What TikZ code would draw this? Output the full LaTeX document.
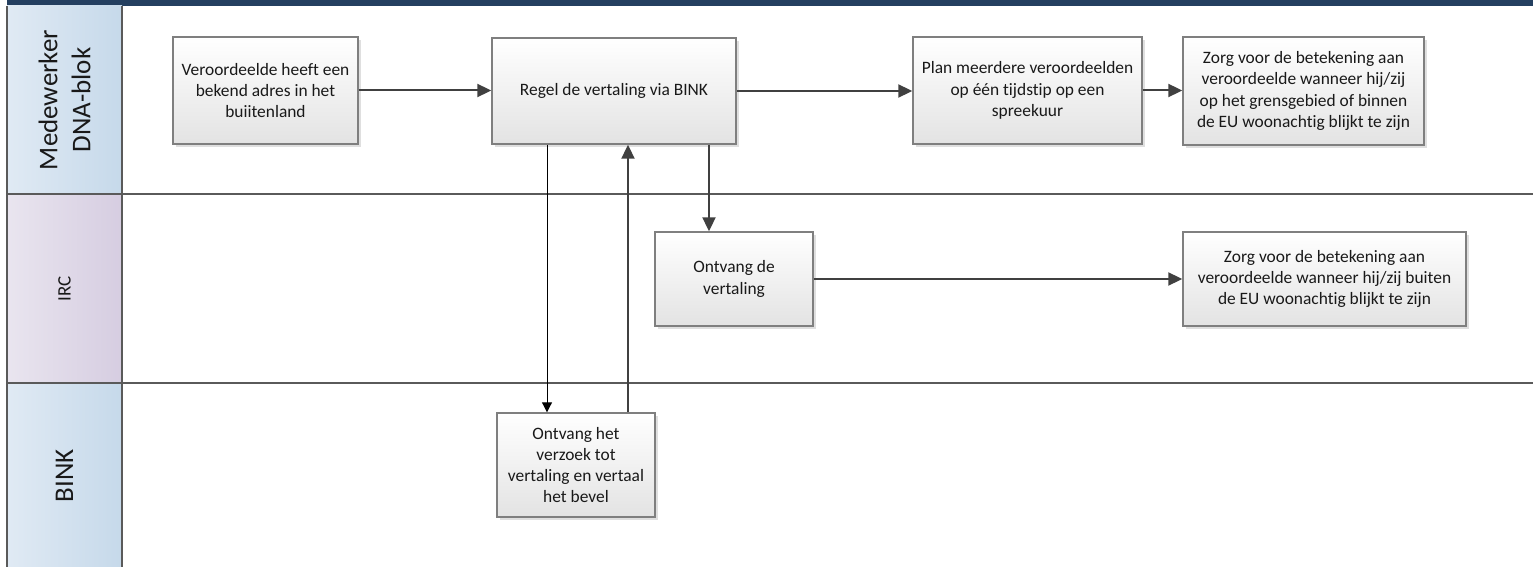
\documentclass[tikz,border=0pt]{standalone}
\usepackage{fontspec}
\setmainfont{Carlito}[Ligatures=NoCommon]
\usetikzlibrary{positioning, arrows.meta, shadows}

\definecolor{laneline}{HTML}{5A5A5A}
\definecolor{topband}{HTML}{243F60}
\definecolor{arrowgray}{HTML}{404040}
\definecolor{boxline}{HTML}{7F7F7F}
\definecolor{headblueL}{HTML}{E0EAF4}
\definecolor{headblueR}{HTML}{C6D9EA}
\definecolor{headlilacL}{HTML}{E9E5EF}
\definecolor{headlilacR}{HTML}{D6CDE1}

\begin{document}
\begin{tikzpicture} [x=0.5pt, y=-0.5pt,
    task/.style = {draw=boxline, line width=0.7pt, top color=white, bottom color=black!11,
        drop shadow={shadow xshift=1.6pt, shadow yshift=-1.6pt, fill=black!25, opacity=0.5},
        align=center, inner sep=0pt, text=black!90, font=\fontsize{8.7}{10.6}\selectfont},
    lanehead/.style = {rotate=90, align=center, text=black!90, font=\fontsize{13.5}{16.5}\selectfont},
    flow/.style = {-{Triangle[length=7pt, width=6.5pt]}, draw=arrowgray, line width=1pt},
    thinflow/.style = {-{Triangle[length=5pt, width=5pt]}, draw=black, line width=0.5pt}]
        \useasboundingbox (0,0) rectangle (1533,567);

        % lanes
        \fill [topband] (7,0) rectangle (1533,6);
        \shade [left color=headblueL, right color=headblueR] (7,6) rectangle (122,194);
        \shade [left color=headlilacL, right color=headlilacR] (7,194) rectangle (122,383);
        \shade [left color=headblueL, right color=headblueR] (7,383) rectangle (122,567);
        \draw [laneline, line width=1pt] (7,6) -- (7,567) (122,6) -- (122,567)
        (7,194) -- (1533,194) (7,383) -- (1533,383);

        \node (dna) [lanehead] at (64.5,100) {Medewerker\\DNA-blok};
        \node (irc) [lanehead, font=\fontsize{9.5}{12}\selectfont] at (64.5,288.5) {IRC};
        \node (binklane) [lanehead] at (64.5,476) {BINK};

        % tasks
        \node (adres) [task, minimum width=92.5pt, minimum height=53.5pt]
        at (265.5,90.5) {Veroordeelde heeft een\\bekend adres in het\\buiitenland};
        \node (regel) [task, minimum width=122pt, minimum height=53pt]
        at (614,91) {Regel de vertaling via BINK};
        \node (plan) [task, minimum width=114.5pt, minimum height=53.5pt]
        at (1027.5,90.5) {Plan meerdere veroordeelden\\op één tijdstip op een\\spreekuur};
        \node (zorgeu) [task, minimum width=120.5pt, minimum height=54pt]
        at (1303.5,91) {Zorg voor de betekening aan\\veroordeelde wanneer hij/zij\\op het grensgebied of binnen\\de EU woonachtig blijkt te zijn};
        \node (ontvang) [task, minimum width=79pt, minimum height=47pt]
        at (734,279) {Ontvang de\\vertaling};
        \node (zorgbuiten) [task, minimum width=141.5pt, minimum height=47pt]
        at (1324.5,279) {Zorg voor de betekening aan\\veroordeelde wanneer hij/zij buiten\\de EU woonachtig blijkt te zijn};
        \node (bink) [task, minimum width=79pt, minimum height=52pt]
        at (576,465) {Ontvang het\\verzoek tot\\vertaling en vertaal\\het bevel};

        % connectors
        \draw [flow] (adres.east) -- (adres.east -| regel.west);
        \draw [flow] (regel.east) -- (regel.east -| plan.west);
        \draw [flow] (plan.east) -- (plan.east -| zorgeu.west);
        \draw [flow] (regel.south -| 709,0) -- (ontvang.north -| 709,0);
        \draw [flow] (ontvang.east) -- (ontvang.east -| zorgbuiten.west);
        \draw [thinflow] (regel.south -| 547,0) -- (bink.north -| 547,0);
        \draw [flow] (bink.north -| 628,0) -- (regel.south -| 628,0);
    \end{tikzpicture}
\end{document}
